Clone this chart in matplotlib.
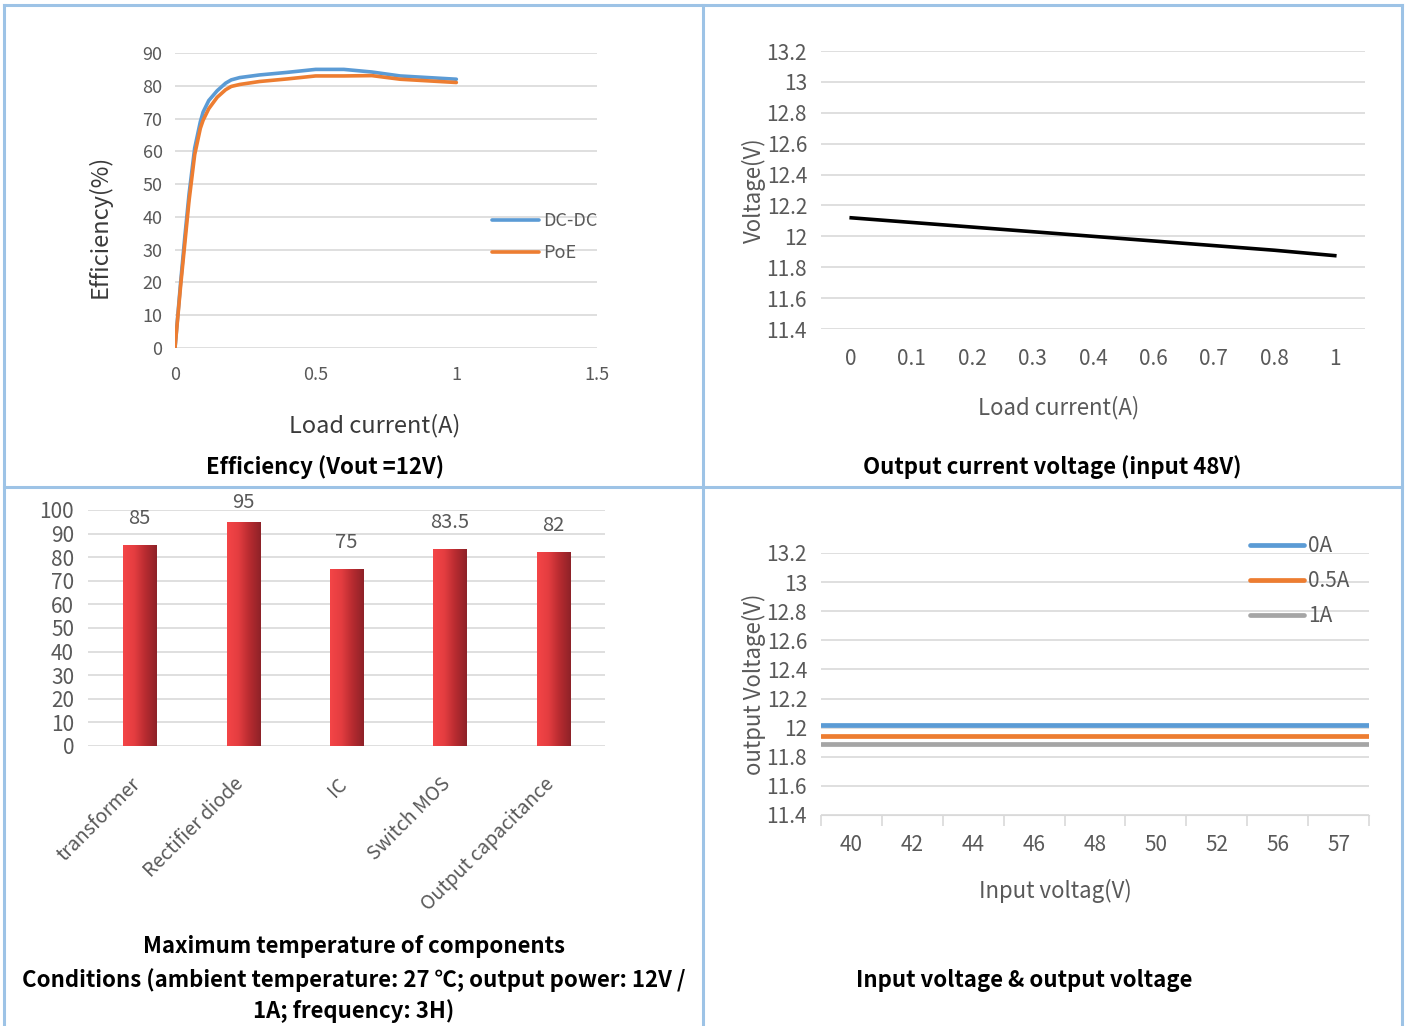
import matplotlib.pyplot as plt
import numpy as np
from matplotlib.lines import Line2D
from matplotlib.colors import LinearSegmentedColormap
from matplotlib.transforms import ScaledTranslation

plt.rcParams['font.family'] = ['Noto Sans CJK SC', 'DejaVu Sans']

GRID = '#D9D9D9'
TXT = '#595959'
DARK = '#3A3A3A'
BLUE = '#5B9BD5'
ORANGE = '#ED7D31'
GREY = '#A5A5A5'

# efficiency vs load current
eff_x = [0, 0.02, 0.035, 0.05, 0.07, 0.09, 0.1, 0.12, 0.15, 0.18, 0.2, 0.23, 0.3, 0.4, 0.5, 0.6, 0.7, 0.8, 0.9, 1.0]
eff_dcdc = [0, 20, 34, 47, 61, 69, 72, 75.5, 78.5, 80.8, 81.8, 82.5, 83.3, 84.1, 85, 85, 84.2, 83, 82.5, 82]
eff_poe = [0, 19, 32, 45, 59, 67, 69.5, 73, 76.5, 78.8, 79.8, 80.4, 81.3, 82.1, 83, 83, 83.1, 82, 81.5, 81]

# output voltage vs load current (input 48V)
load_labels = ['0', '0.1', '0.2', '0.3', '0.4', '0.6', '0.7', '0.8', '1']
vout_load = [12.12, 12.09, 12.06, 12.03, 12.00, 11.97, 11.94, 11.91, 11.875]

# component temperatures
parts = ['transformer', 'Rectifier diode', 'IC', 'Switch MOS', 'Output capacitance']
temps = [85, 95, 75, 83.5, 82]

# output voltage vs input voltage
vin_labels = ['40', '42', '44', '46', '48', '50', '52', '56', '57']
vout_0a = [12.02] * 9
vout_05a = [11.94] * 9
vout_1a = [11.89] * 9

volt_ticks = np.round(np.arange(11.4, 13.21, 0.2), 1)
volt_labels = ['11.4', '11.6', '11.8', '12', '12.2', '12.4', '12.6', '12.8', '13', '13.2']

W, H = 1407, 1026
fig = plt.figure(figsize=(W / 100, H / 100), dpi=100)


def px_axes(x0, x1, ytop, ybot):
    return fig.add_axes([x0 / W, 1 - ybot / H, (x1 - x0) / W, (ybot - ytop) / H])


def px_text(x, y, s, **kw):
    kw.setdefault('ha', 'center')
    kw.setdefault('va', 'center')
    return fig.text(x / W, 1 - y / H, s, **kw)


def style(ax, size):
    for s in ax.spines.values():
        s.set_visible(False)
    ax.grid(axis='y', color=GRID, lw=1.2)
    ax.set_axisbelow(True)
    ax.tick_params(length=0, colors=TXT, labelsize=size)


# ---- efficiency ----
ax1 = px_axes(175, 597, 53, 348)
style(ax1, 13)
ax1.plot(eff_x, eff_dcdc, color=BLUE, lw=2.6, label='DC-DC', solid_capstyle='round')
ax1.plot(eff_x, eff_poe, color=ORANGE, lw=2.6, label='PoE', solid_capstyle='round')
ax1.set_xlim(0, 1.5)
ax1.set_ylim(0, 90)
ax1.set_xticks([0, 0.5, 1, 1.5], ['0', '0.5', '1', '1.5'])
ax1.set_yticks(np.arange(0, 91, 10))
ax1.tick_params(axis='x', pad=13)
ax1.tick_params(axis='y', pad=9)
ax1.legend(loc='center left', bbox_to_anchor=(0.712, 0.376), frameon=False,
           fontsize=13, labelcolor=TXT, handlelength=2.6, handletextpad=0.25,
           labelspacing=0.75)
px_text(100, 226, 'Efficiency(%)', rotation=90, fontsize=17, color=DARK)
px_text(375, 426, 'Load current(A)', fontsize=17, color=DARK)

# ---- output voltage vs load ----
ax2 = px_axes(821, 1365, 51, 329)
style(ax2, 15)
ax2.plot(range(len(load_labels)), vout_load, color='black', lw=2.6)
ax2.set_xlim(-0.5, len(load_labels) - 0.5)
ax2.set_ylim(11.4, 13.2)
ax2.set_xticks(range(len(load_labels)), load_labels)
ax2.set_yticks(volt_ticks, volt_labels)
ax2.tick_params(axis='x', pad=14)
ax2.tick_params(axis='y', pad=10)
px_text(754, 190, 'Voltage(V)', rotation=90, fontsize=16, color=TXT)
px_text(1059, 408, 'Load current(A)', fontsize=16, color=TXT)

# ---- component temperatures ----
ax3 = px_axes(88, 605, 510, 746)
style(ax3, 15)
bars = ax3.bar(range(len(parts)), temps, width=0.32, color='#E03A3E')
ax3.set_yticks(np.arange(0, 101, 10))
ax3.tick_params(axis='y', pad=10)
ax3.set_xticks(range(len(parts)), parts, rotation=45, ha='right',
               rotation_mode='anchor', fontsize=14)
ax3.tick_params(axis='x', pad=20)
shift = ScaledTranslation(-10 / 100, 0, fig.dpi_scale_trans)
for lab in ax3.get_xticklabels():
    lab.set_transform(lab.get_transform() + shift)
grad = LinearSegmentedColormap.from_list('bar', ['#F44547', '#E43D40', '#B72B30', '#8E2228'])
for b, v in zip(bars, temps):
    x0, w = b.get_x(), b.get_width()
    im = ax3.imshow(np.linspace(0, 1, 64).reshape(1, -1), cmap=grad, aspect='auto',
                    extent=(x0, x0 + w, 0, v), zorder=2)
    im.set_clip_path(b)
    # value label sits above the bar, kept inside the plot frame
    ax3.text(x0 + w / 2, min(v + 11.4, 103), f'{v:g}', ha='center', va='center',
             fontsize=14.5, color=TXT, clip_on=False)
ax3.set_xlim(-0.5, len(parts) - 0.5)
ax3.set_ylim(0, 100)

# ---- output voltage vs input voltage ----
ax4 = px_axes(821, 1369, 553, 815)
style(ax4, 15)
n = len(vin_labels)
for vals, c, lab in [(vout_0a, BLUE, '0A'), (vout_05a, ORANGE, '0.5A'), (vout_1a, GREY, '1A')]:
    ax4.axhline(np.mean(vals), color=c, lw=3.4, label=lab, solid_capstyle='round')
ax4.set_xlim(-0.5, n - 0.5)
ax4.set_ylim(11.4, 13.2)
ax4.set_xticks(range(n), vin_labels)
ax4.set_xticks(np.arange(n + 1) - 0.5, minor=True)
ax4.tick_params(axis='x', which='minor', length=8, color=GRID, width=1.2)
ax4.spines['bottom'].set_visible(True)
ax4.spines['bottom'].set_color(GRID)
ax4.set_yticks(volt_ticks, volt_labels)
ax4.tick_params(axis='x', pad=14)
ax4.tick_params(axis='y', pad=10)
ax4.legend(loc='center left', bbox_to_anchor=(0.748, 0.892), frameon=False,
           fontsize=15, labelcolor=TXT, handlelength=2.6, handletextpad=0.2,
           labelspacing=0.62)
px_text(754, 684, 'output Voltage(V)', rotation=90, fontsize=16, color=TXT)
px_text(1055, 891, 'Input voltag(V)', fontsize=16, color=TXT)

# captions
cap = dict(fontsize=16, fontweight='bold', color='black')
px_text(325, 467, 'Efficiency (Vout =12V)', **cap)
px_text(1052, 467, 'Output current voltage (input 48V)', **cap)
px_text(354, 946, 'Maximum temperature of components', **cap)
px_text(354, 980, 'Conditions (ambient temperature: 27 \u2103; output power: 12V /', **cap)
px_text(354, 1011, '1A; frequency: 3H)', **cap)
px_text(1024, 981, 'Input voltage & output voltage', **cap)

# table border
BORDER = '#9DC3E6'
for x in (4, 703, 1402):
    fig.add_artist(Line2D([x / W, x / W], [0, 1 - 5 / H], color=BORDER, lw=2.2))
for y in (5, 487):
    fig.add_artist(Line2D([4 / W, 1402 / W], [1 - y / H, 1 - y / H], color=BORDER, lw=2.2))

fig.savefig('out.png', dpi=100)
